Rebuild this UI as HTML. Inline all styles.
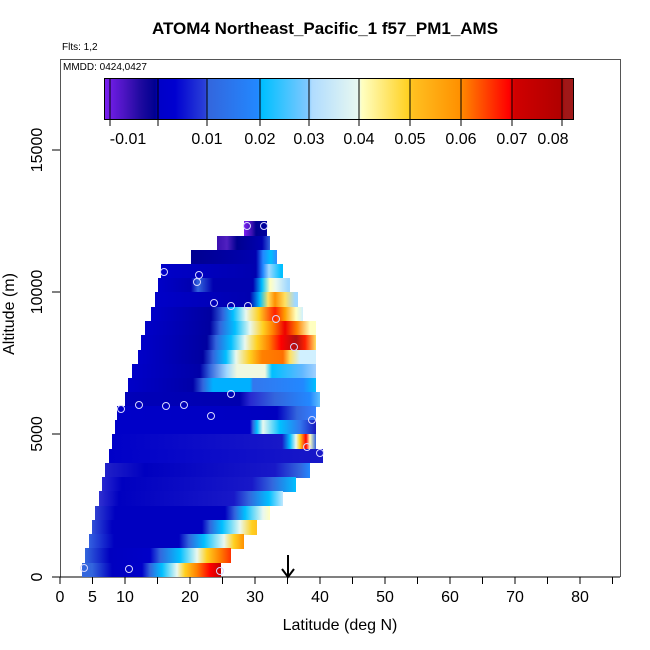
<!DOCTYPE html><html><head><style>
body{margin:0;width:650px;height:650px;background:#fff;font-family:"Liberation Sans",sans-serif;position:relative;overflow:hidden}
.a{position:absolute}
.r{position:absolute;height:14.5px}
</style></head><body>
<div class="a" style="left:0;width:650px;top:19px;text-align:center;font-weight:bold;font-size:17px">ATOM4 Northeast_Pacific_1 f57_PM1_AMS</div>
<div class="a" style="left:62px;top:42px;font-size:10px">Flts: 1,2</div>
<div class="a" style="left:60px;top:59px;width:559px;height:517px;border:1px solid #555;border-bottom:none"></div>
<div class="a" style="left:63px;top:62px;font-size:10px">MMDD: 0424,0427</div>
<div class="a" style="left:104px;top:78px;width:468px;height:40px;border:1px solid #000;background:linear-gradient(90deg,#7a1ff0 0px,#4a14c0 20px,#200aa0 35px,#000090 50px,#0000c8 54px,#0000d0 70px,#2a40d8 100px,#3366dd 103px,#2288ff 153px,#00bfff 157px,#80c8ff 203px,#b0dcff 207px,#e8f8f0 253px,#ffffc0 257px,#ffd020 304px,#ffc020 308px,#ff9000 355px,#ff8000 359px,#ff0000 404px,#d00000 410px,#b00000 456px,#a01818 460px)"></div>
<svg class="a" style="left:0;top:0" width="650" height="650">
<g stroke="#000" stroke-width="1">
<line x1="110" y1="78" x2="110" y2="126"/><line x1="158" y1="78" x2="158" y2="126"/><line x1="207" y1="78" x2="207" y2="126"/><line x1="260" y1="78" x2="260" y2="126"/><line x1="309" y1="78" x2="309" y2="126"/><line x1="359" y1="78" x2="359" y2="126"/><line x1="410" y1="78" x2="410" y2="126"/><line x1="461" y1="78" x2="461" y2="126"/><line x1="512" y1="78" x2="512" y2="126"/><line x1="562" y1="78" x2="562" y2="126"/>
<line x1="60" y1="577" x2="620" y2="577"/>
<line x1="52" y1="150" x2="60" y2="150"/><line x1="52" y1="292" x2="60" y2="292"/><line x1="52" y1="434" x2="60" y2="434"/><line x1="52" y1="577" x2="60" y2="577"/>
</g>
<g stroke="#000">
<line x1="60" y1="577" x2="60" y2="584"/><line x1="92.5" y1="577" x2="92.5" y2="584"/><line x1="125" y1="577" x2="125" y2="584"/><line x1="157.5" y1="577" x2="157.5" y2="584"/><line x1="190" y1="577" x2="190" y2="584"/><line x1="222.5" y1="577" x2="222.5" y2="584"/><line x1="255" y1="577" x2="255" y2="584"/><line x1="287.5" y1="577" x2="287.5" y2="584"/><line x1="320" y1="577" x2="320" y2="584"/><line x1="352.5" y1="577" x2="352.5" y2="584"/><line x1="385" y1="577" x2="385" y2="584"/><line x1="417.5" y1="577" x2="417.5" y2="584"/><line x1="450" y1="577" x2="450" y2="584"/><line x1="482.5" y1="577" x2="482.5" y2="584"/><line x1="515" y1="577" x2="515" y2="584"/><line x1="547.5" y1="577" x2="547.5" y2="584"/><line x1="580" y1="577" x2="580" y2="584"/><line x1="612.5" y1="577" x2="612.5" y2="584"/>
</g>
<g font-family="Liberation Sans" font-size="16" text-anchor="middle">
<text x="128" y="144">-0.01</text><text x="207" y="144">0.01</text><text x="260" y="144">0.02</text><text x="309" y="144">0.03</text><text x="359" y="144">0.04</text><text x="410" y="144">0.05</text><text x="461" y="144">0.06</text><text x="512" y="144">0.07</text><text x="553" y="144">0.08</text>
<text x="60" y="602">0</text><text x="92.5" y="602">5</text><text x="125" y="602">10</text><text x="190" y="602">20</text><text x="255" y="602">30</text><text x="320" y="602">40</text><text x="385" y="602">50</text><text x="450" y="602">60</text><text x="515" y="602">70</text><text x="580" y="602">80</text>
<text x="340" y="630">Latitude (deg N)</text>
<text transform="translate(42,577) rotate(-90)">0</text>
<text transform="translate(42,434) rotate(-90)">5000</text>
<text transform="translate(42,292) rotate(-90)">10000</text>
<text transform="translate(42,150) rotate(-90)">15000</text>
<text transform="translate(14,314) rotate(-90)">Altitude (m)</text>
</g>
</svg>
<div class="r" style="left:244px;width:23px;top:221px;background:linear-gradient(90deg,#7a1ff0,#3a10b0 8px,#000090 12px,#0000a0)"></div>
<div class="r" style="left:217px;width:53px;top:235.5px;background:linear-gradient(90deg,#3a10b0,#5020c0 10px,#000090 20px,#0000b0 45px,#3366dd)"></div>
<div class="r" style="left:191px;width:86px;top:250px;background:linear-gradient(90deg,#000090,#0000b0 65px,#2288ff 72px,#00bfff 80px,#3388ff)"></div>
<div class="r" style="left:161px;width:122px;top:264px;background:linear-gradient(90deg,#0000c8,#0000b0 95px,#2288ff 102px,#a0d8ff 108px,#00bfff 120px)"></div>
<div class="r" style="left:158px;width:132px;top:278px;background:linear-gradient(90deg,#0000c8,#0000b0 33px,#3366dd 40px,#0000b0 55px,#0000b0 95px,#00bfff 104px,#ffffc0 112px,#e8f8f0 118px,#a0d8ff 130px)"></div>
<div class="r" style="left:155px;width:143px;top:292px;background:linear-gradient(90deg,#0000c8,#0000b0 95px,#00bfff 105px,#ffe060 113px,#ff9000 120px,#ffe060 130px,#a0d8ff 140px)"></div>
<div class="r" style="left:151px;width:152px;top:306.5px;background:linear-gradient(90deg,#0000c8,#0000a0 60px,#3366dd 72px,#00bfff 82px,#e8f8f0 95px,#ffd020 108px,#ff2000 124px,#ffa000 134px,#ffffc0 145px,#d0f0ff)"></div>
<div class="r" style="left:145px;width:171px;top:321px;background:linear-gradient(90deg,#0000c8,#0000a0 65px,#3366dd 75px,#00bfff 90px,#e8f8f0 105px,#ffd020 118px,#ff8000 128px,#ee0000 140px,#ff8000 152px,#ffffc0 165px)"></div>
<div class="r" style="left:141px;width:175px;top:335px;background:linear-gradient(90deg,#0000c8,#0000a0 66px,#3366dd 75px,#00bfff 90px,#e8f8f0 104px,#ffd020 116px,#ff8000 128px,#ff0000 140px,#b01010 155px,#ff2000 164px,#ffe060 175px)"></div>
<div class="r" style="left:138px;width:178px;top:349.5px;background:linear-gradient(90deg,#0000c8,#0000a0 65px,#3366dd 75px,#00bfff 88px,#e8f8f0 98px,#ffd020 112px,#ff8000 124px,#ff7000 145px,#ffe060 152px,#d0f0ff 162px,#d0f0ff)"></div>
<div class="r" style="left:132px;width:184px;top:363.5px;background:linear-gradient(90deg,#0000c8,#0000a8 68px,#3366dd 78px,#a0d8ff 95px,#f0f8e0 105px,#f0f8e0 133px,#00bfff 140px,#60b8ff 170px,#a0d0ff)"></div>
<div class="r" style="left:128px;width:188px;top:378px;background:linear-gradient(90deg,#0000c8,#0000a8 65px,#3366dd 75px,#00b0ff 85px,#00b0ff 122px,#3377ee 125px,#2288ff 175px,#00bfff)"></div>
<div class="r" style="left:125px;width:195px;top:392px;background:linear-gradient(90deg,#0000b8,#0000b0 115px,#2828d0 125px,#3366dd 150px,#2288ff 185px,#60c0ff)"></div>
<div class="r" style="left:117px;width:199px;top:406px;background:linear-gradient(90deg,#0000c8,#0000c0 160px,#3366dd 180px,#3380ff 199px)"></div>
<div class="r" style="left:115px;width:201px;top:420px;background:linear-gradient(90deg,#0000c8,#0000c8 135px,#3366dd 138px,#00bfff 142px,#e8f8f0 148px,#00bfff 165px,#3377ee 185px,#1818c0)"></div>
<div class="r" style="left:112px;width:204px;top:434px;background:linear-gradient(90deg,#0000c8,#1818c8 170px,#00bfff 178px,#e8f8f0 184px,#ffd020 188px,#ff0000 194px,#ffffc0 198px,#3366dd 204px)"></div>
<div class="r" style="left:109px;width:214px;top:448.5px;background:linear-gradient(90deg,#0000c8,#1818c8 214px)"></div>
<div class="r" style="left:105px;width:205px;top:463px;background:linear-gradient(90deg,#2020c8,#0000c0 40px,#1818c8 170px,#3366dd 195px,#2288ff)"></div>
<div class="r" style="left:102px;width:194px;top:477px;background:linear-gradient(90deg,#2828d0,#0000c0 20px,#1818c8 150px,#3366dd 170px,#00bfff 194px)"></div>
<div class="r" style="left:99px;width:184px;top:491px;background:linear-gradient(90deg,#3030d0,#0000c0 20px,#1818c8 135px,#3366dd 150px,#00bfff 170px,#c0e8ff 184px)"></div>
<div class="r" style="left:95px;width:175px;top:505.5px;background:linear-gradient(90deg,#3040d0,#0000c0 20px,#0000c0 130px,#3366dd 140px,#00bfff 150px,#e8f8f0 168px,#ffffc0)"></div>
<div class="r" style="left:92px;width:165px;top:520px;background:linear-gradient(90deg,#3050d8,#0000c0 20px,#0000c0 110px,#3366dd 118px,#00bfff 130px,#e8f8f0 148px,#ffd020 160px,#ffc020)"></div>
<div class="r" style="left:89px;width:155px;top:534px;background:linear-gradient(90deg,#3360e0,#0000c0 25px,#0000c0 90px,#3366dd 100px,#00bfff 115px,#e8f8f0 135px,#ffd020 145px,#ff9000)"></div>
<div class="r" style="left:85px;width:146px;top:548px;background:linear-gradient(90deg,#3366dd,#0000c0 25px,#0000c8 65px,#3366dd 75px,#00bfff 95px,#e8f8f0 112px,#ffd020 122px,#ff8000 135px,#ff3000)"></div>
<div class="r" style="left:82px;width:139px;top:562.5px;background:linear-gradient(90deg,#3366dd,#3366dd 10px,#0000c0 30px,#0000c8 60px,#3366dd 68px,#00bfff 80px,#e8f8f0 95px,#ffd020 103px,#ff8000 115px,#ff0000 128px,#c00000)"></div>
<svg class="a" style="left:0;top:0" width="650" height="650">
<g fill="none" stroke="#d8d8ff" stroke-width="1">
<circle cx="84" cy="568" r="3.5"/><circle cx="129" cy="569" r="3.5"/><circle cx="220" cy="571" r="3.5"/><circle cx="121" cy="409" r="3.5"/><circle cx="139" cy="405" r="3.5"/><circle cx="166" cy="406" r="3.5"/><circle cx="184" cy="405" r="3.5"/><circle cx="211" cy="416" r="3.5"/><circle cx="231" cy="394" r="3.5"/><circle cx="312" cy="420" r="3.5"/><circle cx="307" cy="447" r="3.5"/><circle cx="320" cy="453" r="3.5"/><circle cx="164" cy="272" r="3.5"/><circle cx="199" cy="275" r="3.5"/><circle cx="197" cy="282" r="3.5"/><circle cx="214" cy="303" r="3.5"/><circle cx="231" cy="306" r="3.5"/><circle cx="248" cy="306" r="3.5"/><circle cx="276" cy="319" r="3.5"/><circle cx="294" cy="347" r="3.5"/><circle cx="247" cy="226" r="3.5"/><circle cx="264" cy="226" r="3.5"/>
</g>
<line x1="288" y1="555" x2="288" y2="577" stroke="#000" stroke-width="2"/>
<path d="M282,569 L288,577 L294,569" fill="none" stroke="#000" stroke-width="2"/>
</svg>
</body></html>
